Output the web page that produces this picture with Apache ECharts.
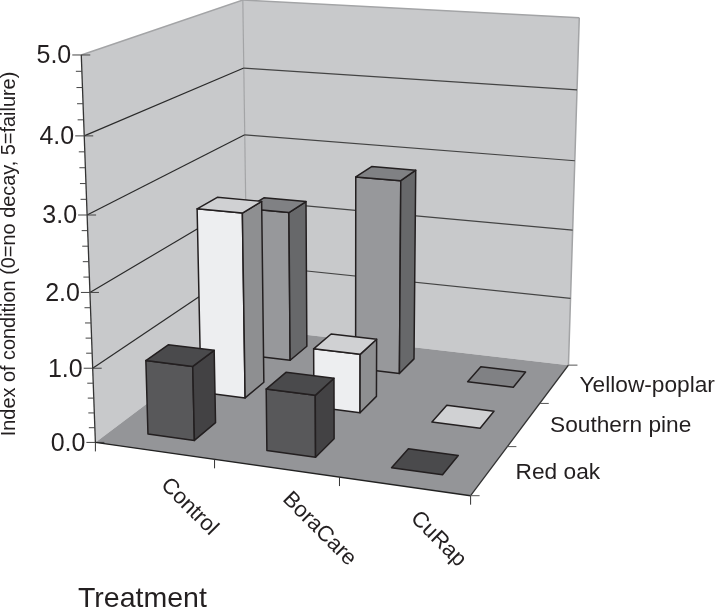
<!DOCTYPE html>
<html><head><meta charset="utf-8">
<style>html,body{margin:0;padding:0;background:#fff}#c{width:717px;height:608px}</style>
<script src="https://cdn.jsdelivr.net/npm/echarts@6/dist/echarts.min.js"></script>
</head><body><div id="c"></div>
<script>
// ---- data ----
const treatments = ['Control', 'BoraCare', 'CuRap'];
const species = ['Red oak', 'Southern pine', 'Yellow-poplar'];
const redOak = [1.0, 0.82, 0];
const southernPine = [2.6, 0.82, 0];
const yellowPoplar = [2.2, 2.8, 0];
const yTicks = [0, 1, 2, 3, 4, 5];
const yTickLabels = ['0.0', '1.0', '2.0', '3.0', '4.0', '5.0'];
const yTitle = 'Index of condition (0=no decay, 5=failure)';
const xTitle = 'Treatment';

// ---- 3D view: calibration of the projection [x, value, z] -> picture ----
const viewRefs = [
  [0,0,0,96,442],[0,1,0,93,368],[0,2,0,90,293],[0,3,0,87,215],[0,4,0,84,136],[0,5,0,81,55],
  [0,0,1,247,329],[0,3,1,245,134],[0,4,1,244,68],[0,5,1,243,0],
  [1,0,1,569,365],[1,1,1,570,298],[1,2,1,572,230],[1,3,1,574,161],[1,4,1,577,90],[1,5,1,580,18],
  [1,0,0,470,496],[1/3,0,0,214,459],[2/3,0,0,339,477],[1,0,1/3,509,447],[1,0,2/3,540,403]
];
function solveView(refs){
  const n=11, A=Array.from({length:n},()=>new Array(n+1).fill(0));
  const add=(r,t)=>{for(let i=0;i<n;i++){for(let j=0;j<n;j++)A[i][j]+=r[i]*r[j];A[i][n]+=r[i]*t;}};
  refs.forEach(([x,v,z,u,w])=>{const y=v/5;
    add([1,x,y,z,0,0,0,0,-u*x,-u*y,-u*z],u);
    add([0,0,0,0,1,x,y,z,-w*x,-w*y,-w*z],w);});
  for(let c=0;c<n;c++){let p=c;for(let r=c+1;r<n;r++)if(Math.abs(A[r][c])>Math.abs(A[p][c]))p=r;
    [A[c],A[p]]=[A[p],A[c]];
    for(let r=0;r<n;r++)if(r!==c){const f=A[r][c]/A[c][c];for(let k=c;k<=n;k++)A[r][k]-=f*A[c][k];}}
  return A.map((row,i)=>row[n]/row[i]);
}
const P = solveView(viewRefs);
function proj(x,v,z){const y=v/5,d=1+P[8]*x+P[9]*y+P[10]*z;
  return [(P[0]+P[1]*x+P[2]*y+P[3]*z)/d,(P[4]+P[5]*x+P[6]*y+P[7]*z)/d];}

const INK='#231f20', WALL='#c8c9cb', FLOOR='#949598', EDGE='#a3a4a6';
const BAR_W=0.066, BAR_D=0.067;   // half footprint of a bar in floor units
const barStyles=[
  {front:'#58585a',top:'#4a4a4c',side:'#434244'},
  {front:'#edeef0',top:'#d0d1d3',side:'#8e8f91'},
  {front:'#97989b',top:'#808184',side:'#67686a'}
];
const FONT='"Liberation Sans", Arial, sans-serif';
const catLabelShift=[[35,56],[43,61],[34,53]];
const speciesLabelShift=[[26,2],[26,1],[25,2]];

function poly(api,pts,fill,stroke,lw){
  return {type:'polygon',shape:{points:pts.map(p=>api.coord(p))},
    style:{fill:fill,stroke:stroke||null,lineWidth:lw||0,lineJoin:'round'}};
}
function line(api,a,b,stroke,lw){
  const p=api.coord(a),q=api.coord(b);
  return {type:'line',shape:{x1:p[0],y1:p[1],x2:q[0],y2:q[1]},style:{stroke:stroke,lineWidth:lw,fill:null}};
}
function label(api,at,text,size,align,rot){
  const p=api.coord(at);
  return {type:'text',x:p[0],y:p[1],rotation:rot||0,
    style:{text:text,fontSize:size,fontFamily:FONT,fill:INK,align:align||'left',verticalAlign:'middle'}};
}

function renderFrame(params,api){
  const c=[];
  const A=proj(0,0,0),B=proj(1,0,0),C=proj(0,0,1),D=proj(1,0,1),E=proj(0,5,0),F=proj(0,5,1),G=proj(1,5,1);
  c.push(poly(api,[A,E,F,C],WALL));
  c.push(poly(api,[C,F,G,D],WALL));
  c.push(poly(api,[A,B,D,C],FLOOR));
  c.push(line(api,E,F,EDGE,1.5),line(api,F,G,EDGE,1.5),line(api,G,D,EDGE,1.5),line(api,F,C,EDGE,1.2));
  yTicks.forEach(t=>{ if(t===0||t===5) return;
    const a=proj(0,t,0),b=proj(0,t,1),d=proj(1,t,1);
    c.push(line(api,a,b,'#2a2a2a',1.2),line(api,b,d,'#444',1.2));
  });
  // value axis
  c.push(line(api,E,A,'#333',1.3));
  for(let t=0;t<=5.001;t+=0.2){
    const p=proj(0,t,0), major=Math.abs(t-Math.round(t))<1e-6;
    c.push(line(api,[p[0]-(major?9:6),p[1]],[p[0]+(major?9:0),p[1]],'#444',1));
  }
  yTicks.forEach((t,i)=>{const p=proj(0,t,0);c.push(label(api,[p[0]-10,p[1]+1.5],yTickLabels[i],25,'right'));});
  // category axis and depth axis
  c.push(line(api,A,B,'#222',1.4),line(api,B,D,'#333',1.4));
  [0,1,2,3].forEach(i=>{const p=proj(i/3,0,0);c.push(line(api,p,[p[0],p[1]+9],'#333',1));});
  [0,1,2,3].forEach(i=>{const p=proj(1,0,i/3);c.push(line(api,p,[p[0]+9,p[1]],'#555',1));});
  // text
  treatments.forEach((t,i)=>{const p=proj((i+0.5)/3,0,0),s=catLabelShift[i];
    c.push(label(api,[p[0]+s[0],p[1]+s[1]],t,22,'center',-Math.PI/4));});
  species.forEach((t,j)=>{const p=proj(1,0,(j+0.5)/3),s=speciesLabelShift[j];
    c.push(label(api,[p[0]+s[0],p[1]+s[1]],t,22.7,'left'));});
  c.push(label(api,[78,599],xTitle,28.5,'left'));
  c.push(label(api,[10,254],yTitle,19.9,'center',Math.PI/2));
  return {type:'group',children:c};
}
function renderBar(j){
  return function(params,api){
    const i=api.value(0), v=api.value(1), st=barStyles[j];
    const cx=(i+0.5)/3, cz=(j+0.5)/3;
    const x0=cx-BAR_W,x1=cx+BAR_W,z0=cz-BAR_D,z1=cz+BAR_D;
    const b=[proj(x0,0,z0),proj(x1,0,z0),proj(x1,0,z1)];
    const t=[proj(x0,v,z0),proj(x1,v,z0),proj(x1,v,z1),proj(x0,v,z1)];
    const ch=[];
    if(v>0){
      ch.push(poly(api,[b[0],b[1],t[1],t[0]],st.front,INK,1.5));
      ch.push(poly(api,[b[1],b[2],t[2],t[1]],st.side,INK,1.5));
    }
    ch.push(poly(api,t,st.top,INK,1.5));
    return {type:'group',children:ch};
  };
}
const valuesBySpecies=[redOak,southernPine,yellowPoplar];
const barSeries=[2,1,0].map(j=>({
  type:'custom',name:species[j],coordinateSystem:'cartesian2d',clip:false,silent:true,
  data:treatments.map((_,i)=>[i,valuesBySpecies[j][i]]),
  encode:{x:0,y:1},renderItem:renderBar(j),animation:false
}));
const chart=echarts.init(document.getElementById('c'),null,{renderer:'canvas'});
chart.setOption({
  animation:false,backgroundColor:'#fff',
  grid:{left:0,right:0,top:0,bottom:0,containLabel:false},
  xAxis:{type:'value',min:0,max:717,show:false},
  yAxis:{type:'value',min:0,max:608,inverse:true,show:false},
  series:[{type:'custom',clip:false,silent:true,data:[[0,0]],encode:{x:0,y:1},renderItem:renderFrame,animation:false}].concat(barSeries)
});
</script></body></html>
